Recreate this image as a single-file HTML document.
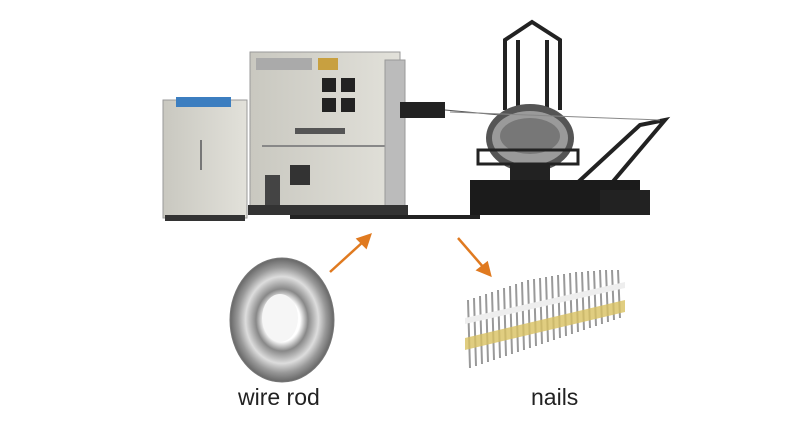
<!DOCTYPE html>
<html><head><meta charset="utf-8"><style>
body{margin:0;width:800px;height:442px;background:#fff;overflow:hidden;position:relative;font-family:"Liberation Sans",sans-serif}
.t{position:absolute;font-size:23px;color:#222}
</style></head><body>
<svg width="800" height="442" style="position:absolute;left:0;top:0">
<defs>
<linearGradient id="g1" x1="0" x2="1"><stop offset="0" stop-color="#c9c8c0"/><stop offset="1" stop-color="#e2e1da"/></linearGradient>
<radialGradient id="c1"><stop offset="0.35" stop-color="#fff"/><stop offset="0.5" stop-color="#888"/><stop offset="0.7" stop-color="#ddd"/><stop offset="0.85" stop-color="#999"/><stop offset="1" stop-color="#666"/></radialGradient>
</defs>
<rect x="163" y="100" width="84" height="118" fill="url(#g1)" stroke="#999"/>
<rect x="176" y="97" width="55" height="10" fill="#3c7ec0"/>
<rect x="200" y="140" width="2" height="30" fill="#777"/>
<rect x="165" y="215" width="80" height="6" fill="#333"/>
<rect x="250" y="52" width="150" height="160" fill="url(#g1)" stroke="#999"/>
<rect x="256" y="58" width="56" height="12" fill="#aaa"/>
<rect x="318" y="58" width="20" height="12" fill="#c8a040"/>
<rect x="322" y="78" width="14" height="14" fill="#222"/><rect x="341" y="78" width="14" height="14" fill="#222"/>
<rect x="322" y="98" width="14" height="14" fill="#222"/><rect x="341" y="98" width="14" height="14" fill="#222"/>
<rect x="295" y="128" width="50" height="6" fill="#555"/>
<rect x="262" y="145" width="125" height="2" fill="#888"/>
<rect x="290" y="165" width="20" height="20" fill="#333"/>
<rect x="265" y="175" width="15" height="30" fill="#444"/>
<rect x="385" y="60" width="20" height="150" fill="#bbb" stroke="#999"/>
<rect x="248" y="205" width="160" height="10" fill="#333"/>
<rect x="400" y="102" width="45" height="16" fill="#222"/>
<line x1="445" y1="110" x2="500" y2="115" stroke="#555"/>
<line x1="290" y1="217" x2="480" y2="217" stroke="#222" stroke-width="4"/>
<g stroke="#222" stroke-width="4" fill="none">
<path d="M505 110 L505 40 L532 22 L560 40 L560 110"/>
<path d="M518 110 L518 40 M547 110 L547 40"/>
<path d="M575 185 L640 125 L665 120 L610 185"/>
</g>
<ellipse cx="530" cy="138" rx="44" ry="34" fill="#555"/>
<ellipse cx="530" cy="138" rx="38" ry="27" fill="#9a9a9a"/>
<ellipse cx="530" cy="136" rx="30" ry="18" fill="#777"/>
<rect x="478" y="150" width="100" height="14" fill="none" stroke="#222" stroke-width="3"/>
<rect x="510" y="165" width="40" height="15" fill="#222"/>
<rect x="470" y="180" width="170" height="35" fill="#1b1b1b"/>
<rect x="600" y="190" width="50" height="25" fill="#222"/>
<line x1="450" y1="112" x2="660" y2="120" stroke="#888"/>
<g stroke="#e07a20" stroke-width="2.5" fill="#e07a20">
<line x1="330" y1="272" x2="364" y2="241"/><polygon points="370,235 358,239 366,247"/>
<line x1="458" y1="238" x2="484" y2="268"/><polygon points="490,275 478,270 487,263"/>
</g>
<ellipse cx="282" cy="320" rx="52" ry="62" fill="url(#c1)" stroke="#777"/>
<ellipse cx="280" cy="318" rx="18" ry="24" fill="#f6f6f6"/>
<g stroke="#999" stroke-width="2">
<path d="M468 300 L470 368 M474 298 L476 366 M480 296 L482 364 M486 294 L488 362 M492 292 L494 360 M498 290 L500 358 M504 288 L506 356 M510 286 L512 354 M516 284 L518 352 M522 282 L524 350 M528 280 L530 348 M534 279 L536 346 M540 278 L542 344 M546 277 L548 342 M552 276 L554 340 M558 275 L560 338 M564 274 L566 336 M570 273 L572 334 M576 272 L578 332 M582 272 L584 330 M588 271 L590 328 M594 271 L596 326 M600 270 L602 324 M606 270 L608 322 M612 270 L614 320 M618 270 L620 318"/>
</g>
<polygon points="465,338 625,300 625,312 465,350" fill="#d8c060" opacity="0.8"/>
<polygon points="465,318 625,282 625,288 465,324" fill="#eee"/>
</svg>
<div class="t" style="left:238px;top:384px">wire rod</div>
<div class="t" style="left:531px;top:384px">nails</div>
</body></html>
